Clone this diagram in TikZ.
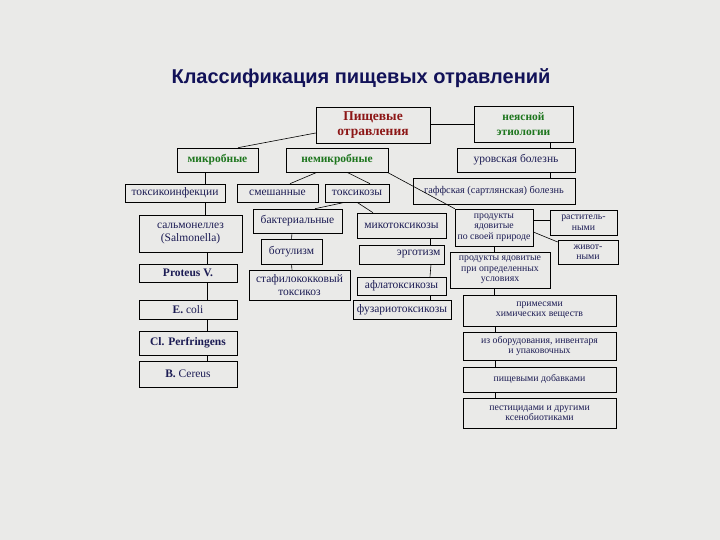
\documentclass[tikz,border=0pt]{standalone}
\usepackage{fontspec}
\setmainfont{Liberation Serif}
\newfontfamily\headfont{Liberation Sans}
\definecolor{bgc}{RGB}{234,234,232}
\definecolor{navy}{RGB}{28,28,84}
\definecolor{darkred}{RGB}{140,22,22}
\definecolor{dgreen}{RGB}{30,118,30}
\definecolor{titleblue}{RGB}{18,18,88}

\begin{document}
\begin{tikzpicture}[x=1pt, y=-1pt,
		box/.style = {draw, line width=0.6pt, inner sep=0pt, align=center, text=navy, font=\fontsize{11.5}{12.5}\selectfont},
		sbox/.style = {box, font=\fontsize{9.8}{10.4}\selectfont},
		gbox/.style = {box, text=dgreen, font=\bfseries\fontsize{11.5}{14.5}\selectfont},
		wh/.style 2 args = {minimum width=#1pt, minimum height=#2pt},
		ln/.style = {line width=0.6pt},
		]
		
		\fill[bgc]	(0,0)	rectangle	(720,540);
		\useasboundingbox	(0,0)	rectangle	(720,540);
		
		\node[font=\headfont\bfseries\fontsize{20}{24}\selectfont, text=titleblue] (title) at (361,78) {Классификация пищевых отравлений};
		
		% top level
		\node[box, wh={114}{36}, text=darkred, font=\bfseries\fontsize{13.5}{15.5}\selectfont] (pish) at (373,125) {Пищевые\\отравления};
		\node[gbox, wh={99}{36}]	(neyasn)	at (523.5,124)	{неясной\\этиологии};
		\node[gbox, wh={81}{24}]	(mikrob)	at (217.5,160)	{микробные};
		\node[gbox, wh={102}{24}]	(nemikrob)	at (337,160)	{немикробные};
		\node[box, wh={118}{24}]	(urov)		at (516,160)	{уровская болезнь};
		\node[box, wh={162}{26}, font=\fontsize{10.3}{12}\selectfont]	(gaff)	at (494,191)	{гаффская (сартлянская) болезнь};
		
		% microbial
		\node[box, wh={100}{18}]	(toksinf)	at (175,193)	{токсикоинфекции};
		\node[box, wh={103}{37}]	(salm)		at (190.5,233.5)	{сальмонеллез\\(Salmonella)};
		\node[box, wh={98}{18}]		(proteus)	at (188,273)	{\bfseries Proteus V.};
		\node[box, wh={98}{19}]		(ecoli)		at (188,309.5)	{\textbf{E.} coli};
		\node[box, wh={98}{24}]		(clperf)	at (188,343)	{\bfseries Cl. Perfringens};
		\node[box, wh={98}{26}]		(bcer)		at (188,374)	{\textbf{B.} Cereus};
		
		% non-microbial
		\node[box, wh={81}{18}]		(smesh)		at (277.5,193)	{смешанные};
		\node[box, wh={64}{18}]		(toksik)	at (357,193)	{токсикозы};
		\node[box, wh={89}{24}]		(bakt)		at (297.5,221)	{бактериальные};
		\node[box, wh={61}{25}]		(botul)		at (291.5,251.5)	{ботулизм};
		\node[box, wh={101}{30}]	(stafil)	at (299.5,285)	{стафилококковый\\токсикоз};
		\node[box, wh={89}{25}]		(mikot)		at (401.5,225.5)	{микотоксикозы};
		\node[box, wh={85}{19}, text width=78pt, align=right]	(ergot)	at (401.5,254.5)	{эрготизм};
		\node[box, wh={89}{18}]		(aflat)		at (401.5,286)	{афлатоксикозы};
		\node[box, wh={98}{19}]		(fuzar)		at (402,309.5)	{фузариотоксикозы};
		
		% products
		\node[sbox, wh={78}{37}]	(prirod)	at (494,227.5)	{продукты\\ядовитые\\по своей природе};
		\node[sbox, wh={67}{25}]	(rast)		at (583.5,222.5)	{раститель-\\ными};
		\node[sbox, wh={60}{24}]	(zhiv)		at (588,252)	{живот-\\ными};
		\node[sbox, wh={100}{36}]	(uslov)		at (500,270)	{продукты ядовитые\\при определенных\\условиях};
		\node[sbox, wh={153}{31}]	(primes)	at (539.5,310.5)	{примесями\\химических веществ};
		\node[sbox, wh={153}{28}]	(oborud)	at (539.5,346)	{из оборудования, инвентаря\\и упаковочных};
		\node[sbox, wh={153}{25}]	(dobav)		at (539.5,379.5)	{пищевыми добавками};
		\node[sbox, wh={153}{30}]	(pestic)	at (539.5,413)	{пестицидами и другими\\ксенобиотиками};
		
		% connectors
		\draw[ln]	([xshift=20.5pt]mikrob.north)	--	([yshift=-8pt]pish.west);
		\draw[ln]	([yshift=1pt]pish.east)		--	([yshift=1pt]pish.east -| neyasn.west);
		\draw[ln]	([xshift=26.5pt]neyasn.south)	--	([xshift=34pt]urov.north);
		\draw[ln]	([xshift=34pt]urov.south)		--	([xshift=56pt]gaff.north);
		\draw[ln]	([xshift=-20pt]nemikrob.south)	--	([xshift=12.5pt]smesh.north);
		\draw[ln]	([xshift=10pt]nemikrob.south)	--	([xshift=13pt]toksik.north);
		\draw[ln]	([xshift=-1pt]nemikrob.south east)	--	(prirod.north west);
		
		\draw[ln]	([xshift=-12.5pt]mikrob.south)	--	([xshift=30pt]toksinf.north);
		\draw[ln]	([xshift=30pt]toksinf.south)	--	([xshift=14.5pt]salm.north);
		\draw[ln]	([xshift=16.5pt]salm.south)		--	([xshift=19pt]proteus.north);
		\draw[ln]	([xshift=19pt]proteus.south)	--	([xshift=19pt]ecoli.north);
		\draw[ln]	([xshift=19pt]ecoli.south)		--	([xshift=19pt]clperf.north);
		\draw[ln]	([xshift=19pt]clperf.south)		--	([xshift=19pt]bcer.north);
		
		\draw[ln]	([xshift=-12pt]toksik.south)	--	([xshift=17.5pt]bakt.north);
		\draw[ln]	(toksik.south)					--	([xshift=-28.5pt]mikot.north);
		\draw[ln]	([xshift=-5.5pt]bakt.south)		--	(botul.north);
		\draw[ln]	(botul.south)					--	([xshift=-7.5pt]stafil.north);
		\draw[ln]	([xshift=28.5pt]mikot.south)	--	([xshift=28.5pt]ergot.north);
		\draw[ln]	([xshift=29.5pt]ergot.south)	--	([xshift=28.5pt]aflat.north);
		\draw[ln]	([xshift=28.5pt]aflat.south)	--	([xshift=28pt]fuzar.north);
		
		\draw[ln]	([yshift=7pt]prirod.east)		--	([yshift=7pt]prirod.east -| rast.west);
		\draw[ln]	([yshift=-4.5pt]prirod.east)	--	([yshift=10pt]zhiv.west);
		\draw[ln]	(prirod.south)					--	(prirod.south |- uslov.north);
		\draw[ln]	([xshift=-6pt]uslov.south)		--	([xshift=-45.5pt]primes.north);
		\draw[ln]	([xshift=-44.5pt]primes.south)	--	([xshift=-44.5pt]oborud.north);
		\draw[ln]	([xshift=-44.5pt]oborud.south)	--	([xshift=-44.5pt]dobav.north);
		\draw[ln]	([xshift=-44.5pt]dobav.south)	--	([xshift=-44.5pt]pestic.north);
	\end{tikzpicture}
\end{document}
